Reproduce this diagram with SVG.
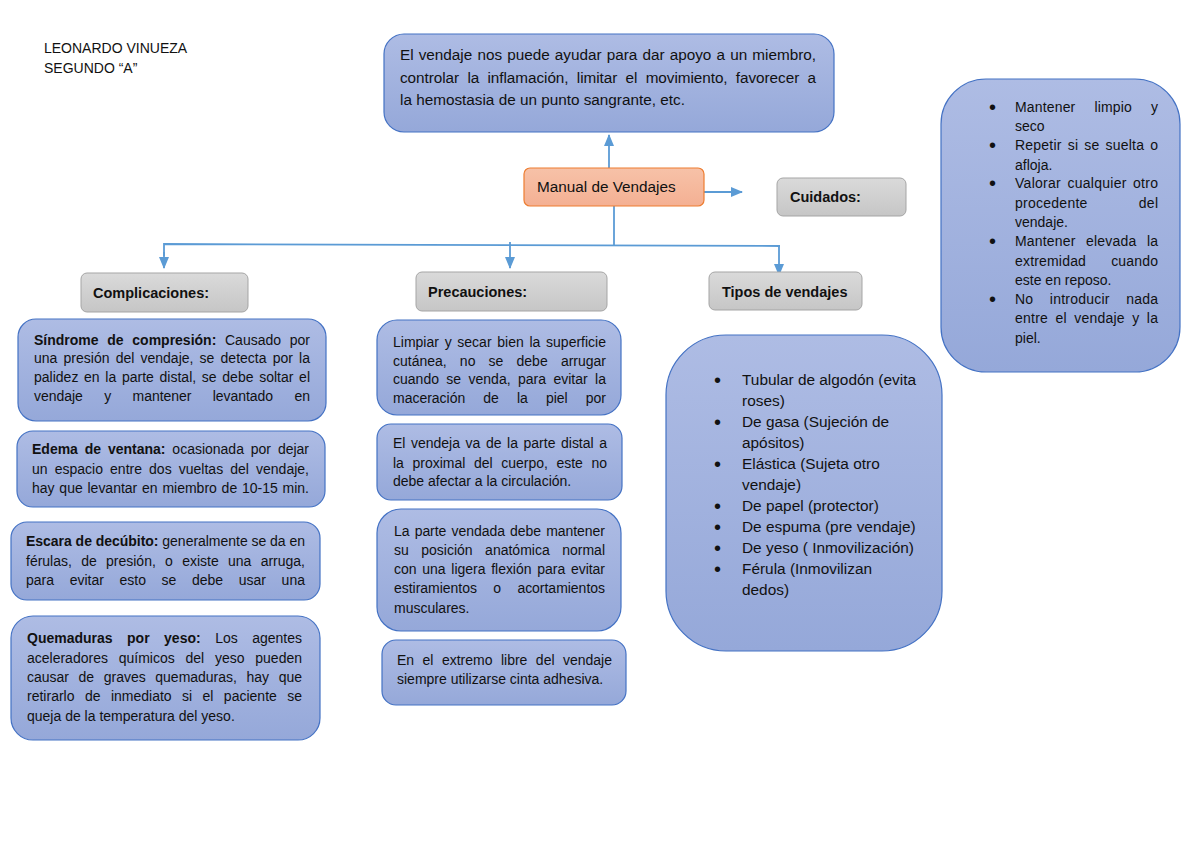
<svg xmlns="http://www.w3.org/2000/svg" width="1200" height="848" viewBox="0 0 1200 848">
<defs>
<linearGradient id="gBlue" x1="0" y1="0" x2="0" y2="1"><stop offset="0" stop-color="#AEBCE4"/><stop offset="1" stop-color="#95A8D9"/></linearGradient>
<linearGradient id="gGray" x1="0" y1="0" x2="0" y2="1"><stop offset="0" stop-color="#DADADA"/><stop offset="1" stop-color="#C6C6C6"/></linearGradient>
<linearGradient id="gOrange" x1="0" y1="0" x2="0" y2="1"><stop offset="0" stop-color="#F7C2A8"/><stop offset="1" stop-color="#F4B093"/></linearGradient>
<marker id="arr" markerUnits="userSpaceOnUse" markerWidth="12" markerHeight="12" viewBox="0 0 12 12" refX="11" refY="6" orient="auto"><path d="M0,1 L12,6 L0,11 Z" fill="#5B9BD5"/></marker>
<style>
.blue{fill:url(#gBlue);stroke:#4472C4;stroke-width:1.2}
.gray{fill:url(#gGray);stroke:#A5A5A5;stroke-width:1}
.orange{fill:url(#gOrange);stroke:#ED7D31;stroke-width:1.2}
text{font-family:"Liberation Sans",Arial,sans-serif;fill:#111;}
.t{font-size:14px}
.tl{font-size:15.4px}
.tt{font-size:15.3px}
.h{font-size:14.5px;font-weight:bold}
.b{font-weight:bold}
.bu{font-size:20px}
.c{fill:none;stroke:#5B9BD5;stroke-width:1.8}
</style>
</defs>
<rect width="1200" height="848" fill="#fff"/>

<g id="author">
<text class="t" x="44" y="53">LEONARDO VINUEZA</text>
<text class="t" x="44" y="73">SEGUNDO “A”</text>
</g>

<g id="connectors">
<line class="c" x1="609" y1="168" x2="609" y2="135" marker-end="url(#arr)"/>
<line class="c" x1="704" y1="192" x2="742" y2="192" marker-end="url(#arr)"/>
<line class="c" x1="614" y1="206" x2="614" y2="245"/>
<polyline class="c" points="164,256 164,244 780,246"/>
<line class="c" x1="164" y1="252" x2="164" y2="268" marker-end="url(#arr)"/>
<line class="c" x1="510" y1="242" x2="510" y2="268" marker-end="url(#arr)"/>
<line class="c" x1="779" y1="246" x2="779" y2="275" marker-end="url(#arr)"/>
</g>

<g id="definicion">
<rect class="blue" x="384" y="34" width="450" height="98" rx="20"/>
<text class="tt" x="400" y="60" word-spacing="0.9" textLength="416" lengthAdjust="spacing">El vendaje nos puede ayudar para dar apoyo a un miembro,</text>
<text class="tt" x="400" y="83" word-spacing="4.1" textLength="416" lengthAdjust="spacing">controlar la inflamación, limitar el movimiento, favorecer a</text>
<text class="tt" x="400" y="105">la hemostasia de un punto sangrante, etc.</text>
</g>

<g id="manual">
<rect class="orange" x="524" y="168" width="180" height="38" rx="6"/>
<text class="tt" x="537" y="192">Manual de Vendajes</text>
</g>

<g id="cuidados">
<rect class="gray" x="777" y="178" width="129" height="38" rx="6"/>
<text class="h" x="790" y="202">Cuidados:</text>
</g>

<g id="cuidados-lista">
<rect class="blue" x="941" y="79" width="239" height="293" rx="45"/>
<g class="t">
<text class="bu" x="989" y="114">•</text>
<text class="bu" x="989" y="152">•</text>
<text class="bu" x="989" y="190">•</text>
<text class="bu" x="989" y="248">•</text>
<text class="bu" x="989" y="306">•</text>
<text x="1015" y="112" word-spacing="15" textLength="143" lengthAdjust="spacing">Mantener limpio y</text>
<text x="1015" y="131">seco</text>
<text x="1015" y="150" word-spacing="1.9" textLength="143" lengthAdjust="spacing">Repetir si se suelta o</text>
<text x="1015" y="170">afloja.</text>
<text x="1015" y="188" word-spacing="2.2" textLength="143" lengthAdjust="spacing">Valorar cualquier otro</text>
<text x="1015" y="208" word-spacing="47" textLength="143" lengthAdjust="spacing">procedente del</text>
<text x="1015" y="227">vendaje.</text>
<text x="1015" y="246" word-spacing="6.5" textLength="143" lengthAdjust="spacing">Mantener elevada la</text>
<text x="1015" y="266" word-spacing="21" textLength="143" lengthAdjust="spacing">extremidad cuando</text>
<text x="1015" y="285">este en reposo.</text>
<text x="1015" y="304" word-spacing="12.3" textLength="143" lengthAdjust="spacing">No introducir nada</text>
<text x="1015" y="323" word-spacing="3.3" textLength="143" lengthAdjust="spacing">entre el vendaje y la</text>
<text x="1015" y="343">piel.</text>
</g>
</g>

<g id="complicaciones">
<rect class="gray" x="81" y="273" width="167" height="39" rx="6"/>
<text class="h" x="93" y="298">Complicaciones:</text>
</g>

<g id="precauciones">
<rect class="gray" x="416" y="272" width="191" height="39" rx="6"/>
<text class="h" x="428" y="297">Precauciones:</text>
</g>

<g id="tipos">
<rect class="gray" x="709" y="272" width="153" height="38" rx="6"/>
<text class="h" x="722" y="297">Tipos de vendajes</text>
</g>

<g id="sindrome">
<rect class="blue" x="18" y="319" width="308" height="102" rx="18"/>
<g class="t">
<text x="34" y="345" word-spacing="4.8" textLength="276" lengthAdjust="spacing"><tspan class="b">Síndrome de compresión:</tspan> Causado por</text>
<text x="34" y="363" word-spacing="2.3" textLength="276" lengthAdjust="spacing">una presión del vendaje, se detecta por la</text>
<text x="34" y="382" word-spacing="1.8" textLength="276" lengthAdjust="spacing">palidez en la parte distal, se debe soltar el</text>
<text x="34" y="401" word-spacing="17.6" textLength="276" lengthAdjust="spacing">vendaje y mantener levantado en</text>
</g>
</g>

<g id="edema">
<rect class="blue" x="17" y="431" width="308" height="76" rx="16"/>
<g class="t">
<text x="32" y="454" word-spacing="3" textLength="277" lengthAdjust="spacing"><tspan class="b">Edema de ventana:</tspan> ocasionada por dejar</text>
<text x="32" y="474" word-spacing="3.2" textLength="277" lengthAdjust="spacing">un espacio entre dos vueltas del vendaje,</text>
<text x="32" y="493" word-spacing="0.9" textLength="277" lengthAdjust="spacing">hay que levantar en miembro de 10-15 min.</text>
</g>
</g>

<g id="escara">
<rect class="blue" x="11" y="522" width="309" height="78" rx="16"/>
<g class="t">
<text x="26" y="546" textLength="279" lengthAdjust="spacing"><tspan class="b">Escara de decúbito:</tspan> generalmente se da en</text>
<text x="26" y="566" word-spacing="5.4" textLength="279" lengthAdjust="spacing">férulas, de presión, o existe una arruga,</text>
<text x="26" y="585" word-spacing="11.7" textLength="279" lengthAdjust="spacing">para evitar esto se debe usar una</text>
</g>
</g>

<g id="quemaduras">
<rect class="blue" x="11" y="616" width="309" height="124" rx="22"/>
<g class="t">
<text x="27" y="643" word-spacing="10.6" textLength="275" lengthAdjust="spacing"><tspan class="b">Quemaduras por yeso:</tspan> Los agentes</text>
<text x="27" y="663" word-spacing="6.9" textLength="275" lengthAdjust="spacing">aceleradores químicos del yeso pueden</text>
<text x="27" y="682" word-spacing="5.8" textLength="275" lengthAdjust="spacing">causar de graves quemaduras, hay que</text>
<text x="27" y="701" word-spacing="6.5" textLength="275" lengthAdjust="spacing">retirarlo de inmediato si el paciente se</text>
<text x="27" y="721">queja de la temperatura del yeso.</text>
</g>
</g>

<g id="limpiar">
<rect class="blue" x="377" y="320" width="244" height="95" rx="20"/>
<g class="t">
<text x="393" y="347" word-spacing="1.8" textLength="213" lengthAdjust="spacing">Limpiar y secar bien la superficie</text>
<text x="393" y="366" word-spacing="9.3" textLength="213" lengthAdjust="spacing">cutánea, no se debe arrugar</text>
<text x="393" y="384" word-spacing="3.5" textLength="213" lengthAdjust="spacing">cuando se venda, para evitar la</text>
<text x="393" y="403" word-spacing="14.2" textLength="213" lengthAdjust="spacing">maceración de la piel por</text>
</g>
</g>

<g id="vendeja">
<rect class="blue" x="377" y="424" width="245" height="76" rx="14"/>
<g class="t">
<text x="393" y="448" word-spacing="1.7" textLength="214" lengthAdjust="spacing">El vendeja va de la parte distal a</text>
<text x="393" y="468" word-spacing="4.7" textLength="214" lengthAdjust="spacing">la proximal del cuerpo, este no</text>
<text x="393" y="486">debe afectar a la circulación.</text>
</g>
</g>

<g id="parte-vendada">
<rect class="blue" x="377" y="509" width="244" height="122" rx="24"/>
<g class="t">
<text x="394" y="536" word-spacing="1.3" textLength="211" lengthAdjust="spacing">La parte vendada debe mantener</text>
<text x="394" y="555" word-spacing="8.6" textLength="211" lengthAdjust="spacing">su posición anatómica normal</text>
<text x="394" y="574" word-spacing="2" textLength="211" lengthAdjust="spacing">con una ligera flexión para evitar</text>
<text x="394" y="593" word-spacing="12.5" textLength="211" lengthAdjust="spacing">estiramientos o acortamientos</text>
<text x="394" y="613">musculares.</text>
</g>
</g>

<g id="extremo">
<rect class="blue" x="382" y="640" width="244" height="65" rx="14"/>
<g class="t">
<text x="397" y="665" word-spacing="4.6" textLength="215" lengthAdjust="spacing">En el extremo libre del vendaje</text>
<text x="397" y="684">siempre utilizarse cinta adhesiva.</text>
</g>
</g>

<g id="tipos-lista">
<rect class="blue" x="666" y="335" width="276" height="316" rx="60"/>
<g class="tl">
<text class="bu" x="714" y="387">•</text>
<text class="bu" x="714" y="429">•</text>
<text class="bu" x="714" y="471">•</text>
<text class="bu" x="714" y="513">•</text>
<text class="bu" x="714" y="534">•</text>
<text class="bu" x="714" y="555">•</text>
<text class="bu" x="714" y="576">•</text>
<text x="742" y="385">Tubular de algodón (evita</text>
<text x="742" y="406">roses)</text>
<text x="742" y="427">De gasa (Sujeción de</text>
<text x="742" y="448">apósitos)</text>
<text x="742" y="469">Elástica (Sujeta otro</text>
<text x="742" y="490">vendaje)</text>
<text x="742" y="511">De papel (protector)</text>
<text x="742" y="532">De espuma (pre vendaje)</text>
<text x="742" y="553">De yeso ( Inmovilización)</text>
<text x="742" y="574">Férula (Inmovilizan</text>
<text x="742" y="595">dedos)</text>
</g>
</g>
</svg>
